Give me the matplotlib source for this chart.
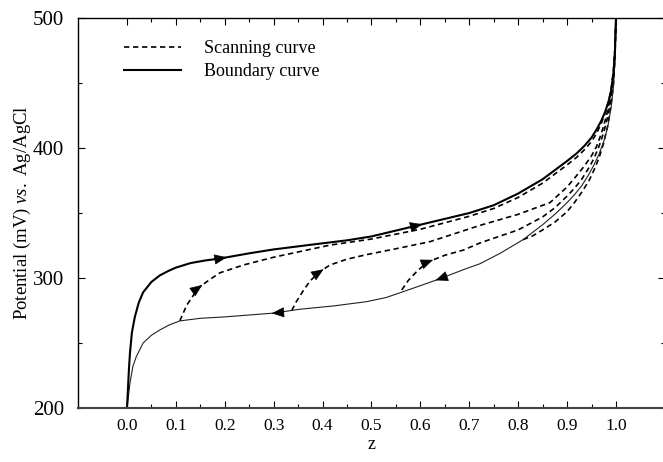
import matplotlib
matplotlib.use("Agg")
import matplotlib.pyplot as plt
import numpy as np
from matplotlib.ticker import FixedLocator

plt.rcParams['font.family'] = ['Liberation Serif', 'DejaVu Serif']
plt.rcParams['mathtext.fontset'] = 'custom'
plt.rcParams['mathtext.rm'] = 'Liberation Serif'
plt.rcParams['mathtext.it'] = 'Liberation Serif:italic'

# boundary curve, charging branch (upper)
upper_z = [0.0, 0.002, 0.004, 0.006, 0.01, 0.016, 0.024, 0.033, 0.05, 0.067, 0.085,
           0.1, 0.13, 0.16, 0.19, 0.25, 0.3, 0.374, 0.45, 0.5, 0.6, 0.7, 0.75, 0.8,
           0.85, 0.9, 0.92, 0.935, 0.95, 0.96, 0.97, 0.978, 0.985, 0.99, 0.995,
           0.998, 1.0]
upper_v = [200, 215, 230, 242, 258, 270, 281, 289, 297, 302, 305.5,
           308, 311.5, 313.5, 315, 319, 322, 325.5, 329, 332, 341, 350, 356, 365,
           376, 390, 396, 401.5, 408, 414, 421, 428, 436, 444, 458,
           475, 500]

# boundary curve, discharging branch (lower)
lower_z = [0.0, 0.002, 0.006, 0.012, 0.019, 0.033, 0.05, 0.067, 0.087, 0.108, 0.15,
           0.197, 0.3, 0.354, 0.422, 0.49, 0.53, 0.565, 0.633, 0.695, 0.722, 0.763,
           0.81, 0.85, 0.875, 0.9, 0.915, 0.93, 0.945, 0.955, 0.965, 0.975, 0.983,
           0.99, 0.995, 0.998, 1.0]
lower_v = [200, 206, 219, 232, 239.5, 250, 256, 260, 264, 267, 269,
           270, 273, 276, 278.5, 281.8, 285, 289.5, 298.5, 307.4, 311, 319,
           329.5, 341, 349, 358, 364, 371, 380, 387, 395, 405, 416,
           431, 448, 468, 500]

# scanning curves
scan1_z = [0.108, 0.122, 0.146, 0.17, 0.19, 0.238, 0.3, 0.374, 0.415, 0.5, 0.6,
           0.7, 0.75, 0.8, 0.85, 0.9, 0.92, 0.935, 0.95, 0.96, 0.97, 0.978, 0.985,
           0.99, 0.995, 0.998, 1.0]
scan1_v = [267, 279, 292.5, 299, 304, 310, 316, 322, 325.3, 330, 337.5,
           347.5, 353.5, 362, 373, 387, 393, 398.5, 405, 411, 419, 427, 436,
           445, 460, 477, 500]

scan2_z = [0.337, 0.345, 0.36, 0.375, 0.395, 0.415, 0.45, 0.49, 0.55, 0.62, 0.722,
           0.8, 0.865, 0.9, 0.92, 0.935, 0.95, 0.96, 0.97, 0.98, 0.987, 0.993,
           0.997, 1.0]
scan2_v = [275, 281, 290, 298, 305, 310, 314.5, 318, 322.5, 328, 340.5,
           349, 358, 370, 379, 386, 394, 401, 411, 424, 436, 450,
           468, 500]

scan3_z = [0.562, 0.575, 0.595, 0.616, 0.65, 0.688, 0.722, 0.8, 0.85, 0.875, 0.9,
           0.915, 0.93, 0.945, 0.955, 0.965, 0.975, 0.983, 0.99, 0.995, 0.998, 1.0]
scan3_v = [290.8, 298, 306, 312.5, 317.5, 321.5, 327, 337, 347, 354, 363,
           369, 376, 385, 392, 401, 412, 424, 438, 455, 472, 500]

scan4_z = [0.81, 0.83, 0.85, 0.875, 0.9, 0.915, 0.93, 0.945, 0.955, 0.965, 0.975,
           0.983, 0.99, 0.995, 0.998, 1.0]
scan4_v = [329.5, 332.5, 337, 343, 351, 358, 366, 375, 383, 392, 404,
           417, 433, 450, 470, 500]

# arrow positions: (curve, z, direction)
arrows = [("upper", 0.2, 1), ("upper", 0.6, 1),
          ("lower", 0.3, -1), ("lower", 0.635, -1),
          ("scan1", 0.15, 1), ("scan2", 0.398, 1), ("scan3", 0.622, 1)]

curves = {"upper": (upper_z, upper_v), "lower": (lower_z, lower_v),
          "scan1": (scan1_z, scan1_v), "scan2": (scan2_z, scan2_v),
          "scan3": (scan3_z, scan3_v), "scan4": (scan4_z, scan4_v)}

fig = plt.figure(figsize=(6.63, 4.62), dpi=100)
ax = fig.add_axes([0.1178, 0.1169, 0.885, 0.844])

dash = (0, (3.2, 2.2))
for name in ["scan1", "scan2", "scan3", "scan4"]:
    zz, vv = curves[name]
    ax.plot(zz, vv, color='k', lw=1.2, linestyle=dash)
ax.plot(lower_z, lower_v, color='#222222', lw=0.8)
ax.plot(upper_z, upper_v, color='k', lw=1.5)

for name, z0, d in arrows:
    zz, vv = curves[name]
    z1 = z0 + d * 0.004
    ax.annotate('', xy=(z1, np.interp(z1, zz, vv)), xytext=(z0, np.interp(z0, zz, vv)),
                arrowprops=dict(arrowstyle='-|>,head_length=0.8,head_width=0.33',
                                color='k', lw=0.5, shrinkA=0, shrinkB=0),
                annotation_clip=False)

# legend
leg_s, = ax.plot([], [], color='k', lw=1.2, linestyle=dash, label='Scanning curve')
leg_b, = ax.plot([], [], color='k', lw=1.5, label='Boundary curve')
ax.legend(handles=[leg_s, leg_b], loc='upper left', bbox_to_anchor=(0.05, 0.985),
          frameon=False, fontsize=13, handlelength=3.2, handletextpad=1.25,
          labelspacing=0.35)

ax.set_xlim(-0.1, 1.1)
ax.set_ylim(200, 500)
ax.xaxis.set_major_locator(FixedLocator(np.arange(0, 11) / 10))
ax.xaxis.set_minor_locator(FixedLocator(np.arange(1, 20, 2) / 20))
ax.set_xticklabels(["%.1f" % t for t in np.arange(0, 11) / 10])
ax.yaxis.set_major_locator(FixedLocator([200, 300, 400, 500]))
ax.yaxis.set_minor_locator(FixedLocator([250, 350, 450]))
ax.tick_params(which='both', direction='in', top=True, right=True)
ax.tick_params(which='major', length=5, width=0.8)
ax.tick_params(which='minor', length=3, width=0.8)
ax.tick_params(axis='x', labelsize=12.5, pad=7)
ax.tick_params(axis='y', labelsize=15, pad=10)
for s in ax.spines.values():
    s.set_linewidth(1.0)
ax.spines['bottom'].set_linewidth(1.5)
ax.spines['bottom'].set_color('#444444')

ax.set_xlabel("z", fontsize=13, labelpad=2)
ax.set_ylabel(r"Potential (mV) $\mathit{vs.}$ Ag/AgCl", fontsize=13.5)
ax.yaxis.set_label_coords(-0.077, 0.5)

fig.savefig("out.png", dpi=100)
